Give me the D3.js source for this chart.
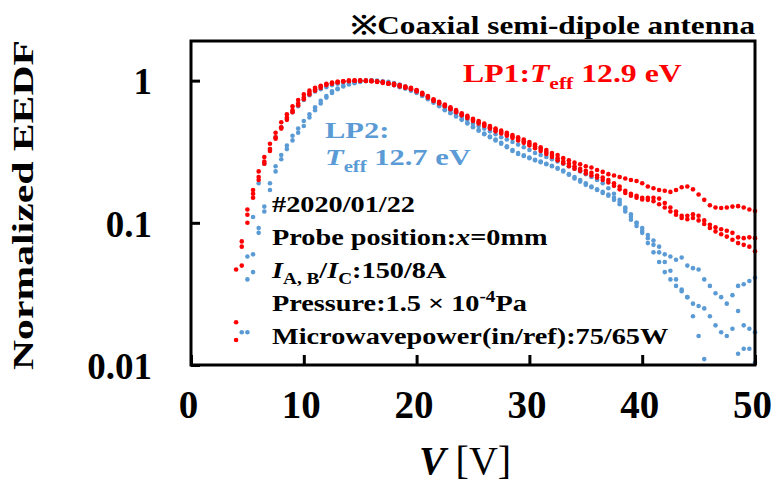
<!DOCTYPE html>
<html>
<head>
<meta charset="utf-8">
<script src="https://cdnjs.cloudflare.com/ajax/libs/d3/7.8.5/d3.min.js"></script>
<style>
  body { margin: 0; background: #fff; }
  text { font-family: "Liberation Serif", "Times New Roman", serif; font-weight: bold; }
</style>
</head>
<body>
<div id="chart"></div>
<script>
  // probe voltage [V] of every sample
  var voltage = [
    4, 4.5, 5, 5.5, 6, 6.5, 7, 7.5, 8, 8.5,
    9, 9.5, 10, 10.5, 11, 11.5, 12, 12.5, 13, 13.5,
    14, 14.5, 15, 15.5, 16, 16.5, 17, 17.5, 18, 18.5,
    19, 19.5, 20, 20.5, 21, 21.5, 22, 22.5, 23, 23.5,
    24, 24.5, 25, 25.5, 26, 26.5, 27, 27.5, 28, 28.5,
    29, 29.5, 30, 30.5, 31, 31.5, 32, 32.5, 33, 33.5,
    34, 34.5, 35, 35.5, 36, 36.5, 37, 37.5, 38, 38.5,
    39, 39.5, 40, 40.5, 41, 41.5, 42, 42.5, 43, 43.5,
    44, 44.5, 45, 45.5, 46, 46.5, 47, 47.5, 48, 48.5,
    49, 49.5, 50
  ];

  // LP1 (red), three sweeps
  var lp1a = [
    0.047, 0.074, 0.124, 0.17, 0.23, 0.29, 0.36, 0.43, 0.51, 0.58,
    0.66, 0.73, 0.80, 0.85, 0.89, 0.92, 0.95, 0.97, 0.98, 0.99,
    1.0, 1.0, 1.0, 1.0, 1.0, 0.99, 0.98, 0.96, 0.95, 0.93,
    0.91, 0.89, 0.86, 0.82, 0.78, 0.74, 0.71, 0.68, 0.65, 0.62,
    0.59, 0.565, 0.54, 0.52, 0.50, 0.48, 0.46, 0.445, 0.43, 0.415,
    0.40, 0.385, 0.37, 0.355, 0.34, 0.325, 0.31, 0.30, 0.285, 0.275,
    0.265, 0.258, 0.25, 0.245, 0.235, 0.228, 0.22, 0.215, 0.21, 0.205,
    0.20, 0.197, 0.19, 0.18, 0.175, 0.17, 0.168, 0.165, 0.17, 0.178,
    0.18, 0.172, 0.158, 0.145, 0.133, 0.128, 0.127, 0.128, 0.13, 0.131,
    0.128, 0.124, 0.121
  ];
  var lp1b = [
    0.020, 0.068, 0.114, 0.16, 0.21, 0.27, 0.33, 0.40, 0.47, 0.55,
    0.62, 0.69, 0.76, 0.82, 0.87, 0.91, 0.94, 0.96, 0.98, 0.99,
    1.0, 1.0, 1.0, 1.0, 0.99, 0.985, 0.97, 0.955, 0.94, 0.92,
    0.90, 0.88, 0.85, 0.81, 0.77, 0.73, 0.70, 0.67, 0.64, 0.61,
    0.58, 0.555, 0.53, 0.51, 0.49, 0.47, 0.45, 0.435, 0.42, 0.405,
    0.39, 0.375, 0.36, 0.345, 0.33, 0.315, 0.30, 0.285, 0.27, 0.26,
    0.25, 0.24, 0.232, 0.225, 0.215, 0.208, 0.20, 0.19, 0.18, 0.168,
    0.16, 0.155, 0.15, 0.15, 0.15, 0.148, 0.138, 0.128, 0.12, 0.112,
    0.112, 0.115, 0.112, 0.104, 0.097, 0.093, 0.09, 0.088, 0.085, 0.079,
    0.078, 0.079, 0.078
  ];
  var lp1c = [
    0.015, 0.05, 0.10, 0.15, 0.20, 0.26, 0.32, 0.39, 0.46, 0.53,
    0.60, 0.67, 0.74, 0.80, 0.85, 0.89, 0.93, 0.95, 0.97, 0.985,
    0.99, 1.0, 1.0, 0.995, 0.99, 0.98, 0.965, 0.95, 0.93, 0.91,
    0.89, 0.87, 0.84, 0.80, 0.76, 0.72, 0.69, 0.66, 0.63, 0.60,
    0.57, 0.545, 0.52, 0.50, 0.48, 0.46, 0.44, 0.425, 0.41, 0.395,
    0.38, 0.365, 0.35, 0.335, 0.32, 0.305, 0.29, 0.275, 0.262, 0.25,
    0.24, 0.232, 0.222, 0.215, 0.208, 0.20, 0.192, 0.182, 0.172, 0.162,
    0.155, 0.15, 0.146, 0.145, 0.142, 0.135, 0.128, 0.12, 0.114, 0.108,
    0.106, 0.108, 0.104, 0.098, 0.092, 0.087, 0.083, 0.08, 0.076, 0.072,
    0.07, 0.068, 0.063
  ];

  // LP2 (blue), three sweeps
  var lp2a = [
    null, null, 0.058, 0.11, 0.19, 0.26, 0.33, 0.40, 0.47, 0.54,
    0.60, 0.66, 0.73, 0.79, 0.84, 0.87, 0.90, 0.93, 0.95, 0.97,
    0.98, 0.99, 1.0, 1.0, 1.0, 1.0, 0.99, 0.98, 0.96, 0.94,
    0.91, 0.88, 0.85, 0.81, 0.77, 0.73, 0.69, 0.65, 0.62, 0.59,
    0.56, 0.53, 0.50, 0.48, 0.46, 0.44, 0.42, 0.40, 0.385, 0.37,
    0.355, 0.34, 0.325, 0.31, 0.30, 0.29, 0.28, 0.27, 0.26, 0.25,
    0.24, 0.23, 0.22, 0.21, 0.20, 0.19, 0.175, 0.16, 0.145, 0.125,
    0.11, 0.10, 0.092, 0.082, 0.075, 0.068, 0.06, 0.058, 0.055, 0.057,
    0.05, 0.048, 0.047, 0.04, 0.036, 0.032, 0.03, 0.027, 0.031, 0.036,
    0.037, 0.039, 0.041
  ];
  var lp2b = [
    null, null, 0.017, 0.045, 0.092, 0.13, 0.19, 0.25, 0.30, 0.35,
    0.41, 0.46, 0.52, 0.58, 0.65, 0.72, 0.78, 0.84, 0.88, 0.92,
    0.95, 0.97, 0.99, 1.0, 1.0, 0.99, 0.97, 0.95, 0.93, 0.90,
    0.88, 0.85, 0.82, 0.78, 0.74, 0.70, 0.66, 0.62, 0.59, 0.56,
    0.53, 0.50, 0.47, 0.445, 0.42, 0.40, 0.38, 0.36, 0.34, 0.32,
    0.305, 0.295, 0.285, 0.275, 0.267, 0.258, 0.25, 0.24, 0.23, 0.218,
    0.205, 0.195, 0.185, 0.178, 0.17, 0.162, 0.155, 0.145, 0.135, 0.12,
    0.105, 0.095, 0.088, 0.078, 0.07, 0.062, 0.053, 0.046, 0.04, 0.034,
    0.03, 0.027, 0.026, 0.025, 0.022, 0.019, 0.017, 0.016, 0.018, 0.024,
    0.019, 0.018, 0.017
  ];
  var lp2c = [
    null, 0.017, 0.04, 0.06, 0.085, 0.12, 0.17, 0.23, 0.28, 0.33,
    0.38, 0.43, 0.48, 0.55, 0.62, 0.69, 0.76, 0.82, 0.87, 0.91,
    0.94, 0.96, 0.98, 0.99, 1.0, 0.99, 0.975, 0.955, 0.93, 0.91,
    0.885, 0.86, 0.83, 0.79, 0.75, 0.71, 0.67, 0.63, 0.595, 0.565,
    0.535, 0.505, 0.475, 0.45, 0.425, 0.405, 0.385, 0.365, 0.345, 0.325,
    0.31, 0.298, 0.288, 0.278, 0.27, 0.26, 0.252, 0.243, 0.233, 0.22,
    0.21, 0.20, 0.19, 0.18, 0.172, 0.165, 0.158, 0.15, 0.14, 0.128,
    0.115, 0.10, 0.085, 0.072, 0.062, 0.053, 0.045, 0.04, 0.036, 0.033,
    0.03, 0.022, 0.016, 0.011, 0.008, 0.007, 0.007, 0.008, 0.009, 0.012,
    0.013, 0.013, 0.0104
  ];

  var xTicks = [0, 10, 20, 30, 40, 50];
  var yTicks = [0.01, 0.1, 1];
  var yTickLabels = ["0.01", "0.1", "1"];

  var red = "#ff0000";
  var blue = "#5b9bd5";

  var width = 773, height = 482;
  var plotLeft = 191, plotRight = 755, plotTop = 41, plotBottom = 365;

  var svg = d3.select("#chart").append("svg")
      .attr("width", width)
      .attr("height", height);

  var x = d3.scaleLinear().domain([0, 50]).range([plotLeft, plotRight]);
  var y = d3.scaleLog().domain([0.01, 1.9]).range([plotBottom, plotTop]);

  // dots: blue underneath, red on top
  var series = [
    {values: lp2a, color: blue}, {values: lp2b, color: blue}, {values: lp2c, color: blue},
    {values: lp1a, color: red}, {values: lp1b, color: red}, {values: lp1c, color: red}
  ];
  series.forEach(function(s) {
    var pts = voltage.map(function(v, i) { return {v: v, f: s.values[i]}; })
        .filter(function(d) { return d.f != null && d.f >= 0.01; });
    svg.append("g").selectAll("circle").data(pts)
      .enter().append("circle")
        .attr("cx", function(d) { return x(d.v); })
        .attr("cy", function(d) { return y(d.f); })
        .attr("r", 2.3)
        .attr("fill", s.color);
  });

  // axes, ticks pointing inward
  var xAxis = svg.append("g")
      .attr("transform", "translate(0," + plotBottom + ")")
      .call(d3.axisBottom(x).tickValues(xTicks).tickSize(-10).tickPadding(25).tickFormat(d3.format("d")));
  var yAxis = svg.append("g")
      .attr("transform", "translate(" + plotLeft + ",0)")
      .call(d3.axisLeft(y).tickValues(yTicks).tickSize(-9).tickPadding(39)
        .tickFormat(function(d, i) { return yTickLabels[i]; }));
  [xAxis, yAxis].forEach(function(a) {
    a.select(".domain").remove();
    a.selectAll("line").attr("stroke", "#000").attr("stroke-width", 3);
    a.selectAll("text")
      .attr("fill", "#000")
      .attr("font-family", "Liberation Serif, serif")
      .attr("font-weight", "bold");
  });
  xAxis.selectAll("text").attr("font-size", 39).attr("dx", -3);
  yAxis.selectAll("text").attr("font-size", 37).attr("dy", "0.36em");

  svg.append("rect")
      .attr("x", plotLeft).attr("y", plotTop)
      .attr("width", plotRight - plotLeft).attr("height", plotBottom - plotTop)
      .attr("fill", "none").attr("stroke", "#000").attr("stroke-width", 3);

  // stretched text with optional italic / sub / sup parts
  function label(px, py, sx, size, color, anchor, parts) {
    var t = svg.append("text")
        .attr("transform", "translate(" + px + "," + py + ") scale(" + sx + ",1)")
        .attr("font-size", size)
        .attr("fill", color)
        .attr("text-anchor", anchor);
    var shift = 0;
    parts.forEach(function(p) {
      var sp = t.append("tspan").text(p.t);
      var target = p.sub ? size * 0.28 : p.sup ? -size * 0.38 : 0;
      if (target !== shift) { sp.attr("dy", target - shift); shift = target; }
      if (p.sub || p.sup) sp.attr("font-size", size * 0.68);
      if (p.i) sp.attr("font-style", "italic");
    });
    return t;
  }

  label(755, 34, 1.2, 26, "#000", "end", [{t: "※Coaxial semi-dipole antenna"}]);

  label(463, 82, 1.22, 26, red, "start",
    [{t: "LP1:"}, {t: "T", i: true}, {t: "eff", sub: true}, {t: " 12.9 eV"}]);
  label(325, 138, 1.27, 24, blue, "start", [{t: "LP2:"}]);
  label(325, 165, 1.27, 24, blue, "start",
    [{t: "T", i: true}, {t: "eff", sub: true}, {t: " 12.7 eV"}]);

  var note = [
    [{t: "#2020/01/22"}],
    [{t: "Probe position:"}, {t: "x", i: true}, {t: "=0mm"}],
    [{t: "I", i: true}, {t: "A, B", sub: true}, {t: "/"}, {t: "I", i: true}, {t: "C", sub: true}, {t: ":150/8A"}],
    [{t: "Pressure:1.5 × 10"}, {t: "-4", sup: true}, {t: "Pa"}],
    [{t: "Microwavepower(in/ref):75/65W"}]
  ];
  note.forEach(function(parts, i) {
    label(272, 212 + i * 33, 1.23, 23, "#000", "start", parts);
  });

  // axis titles
  svg.append("text")
      .attr("transform", "translate(33,205) rotate(-90)")
      .attr("text-anchor", "middle")
      .attr("font-size", 30)
      .attr("textLength", 330)
      .attr("lengthAdjust", "spacingAndGlyphs")
      .text("Normalized  EEDF");

  var xt = svg.append("text")
      .attr("x", 465).attr("y", 474)
      .attr("text-anchor", "middle")
      .attr("font-size", 40);
  xt.append("tspan").attr("font-style", "italic").text("V");
  xt.append("tspan").attr("font-weight", "normal").text(" [V]");
</script>
</body>
</html>
